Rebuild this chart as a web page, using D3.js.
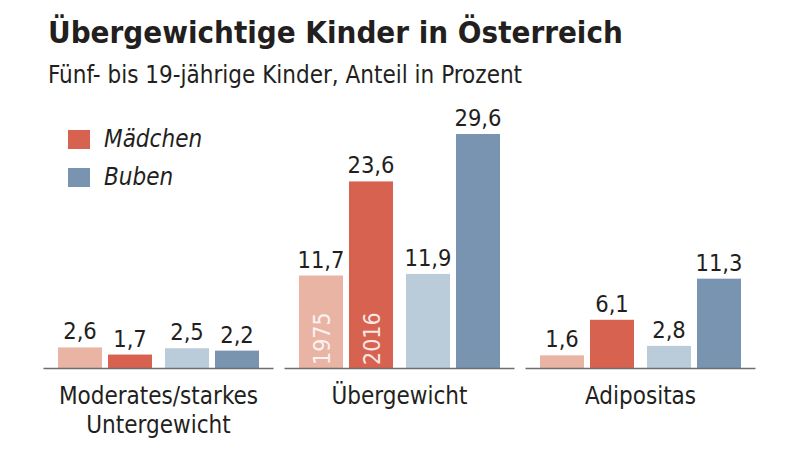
<!DOCTYPE html>
<html><head><meta charset="utf-8">
<script src="https://cdn.jsdelivr.net/npm/d3@7"></script>
<style>
body{margin:0;background:#fff;}
svg{display:block;}
text{font-family:"Liberation Sans Narrow","DejaVu Sans Condensed","Roboto",sans-serif;fill:#231f20;}
</style></head>
<body><svg id="c" width="800" height="452"></svg>
<script>
const categories = ["Moderates/starkes\nUntergewicht", "Übergewicht", "Adipositas"];
const sexes = ["Mädchen", "Buben"];
const years = ["1975", "2016"];
const maedchen1975 = [2.6, 11.7, 1.6];
const maedchen2016 = [1.7, 23.6, 6.1];
const buben1975 = [2.5, 11.9, 2.8];
const buben2016 = [2.2, 29.6, 11.3];
const title = "Übergewichtige Kinder in Österreich";
const subtitle = "Fünf- bis 19-jährige Kinder, Anteil in Prozent";

const colors = {"Mädchen|1975":"#E9B4A4","Mädchen|2016":"#D6624F","Buben|1975":"#BACCDA","Buben|2016":"#7894B0"};
const series = {"Mädchen|1975":maedchen1975,"Mädchen|2016":maedchen2016,"Buben|1975":buben1975,"Buben|2016":buben2016};

const svg = d3.select("#c");
const fmt = d3.formatLocale({decimal:",",thousands:".",grouping:[3],currency:["","€"]}).format(".1f");

svg.append("text").attr("x",48).attr("y",43).attr("font-size",31).attr("font-weight","bold").text(title);
svg.append("text").attr("x",48).attr("y",83).attr("font-size",24).text(subtitle);

const x0 = d3.scaleBand().domain(categories).range([38,761]);
const xs = d3.scaleBand().domain(sexes).range([0,201]).paddingInner(13/107);
const xy = d3.scaleBand().domain(years).range([0,xs.bandwidth()]).paddingInner(0.12);
const y = d3.scaleLinear().domain([0,29.6]).range([368,134]);

const groupW = 201;
const data = [];
categories.forEach((c,i)=>{
  sexes.forEach(s=>years.forEach(yr=>{
    data.push({c, s, yr, v: series[s+"|"+yr][i]});
  }));
});
const bx = d => x0(d.c) + (x0.bandwidth()-groupW)/2 + xs(d.s) + xy(d.yr);

svg.append("g").selectAll("rect").data(data).join("rect")
  .attr("x", bx).attr("width", xy.bandwidth())
  .attr("y", d=>y(d.v)).attr("height", d=>y(0)-y(d.v))
  .attr("fill", d=>colors[d.s+"|"+d.yr]);

svg.append("g").selectAll("text").data(data).join("text")
  .attr("x", d=>bx(d)+xy.bandwidth()/2).attr("y", d=>y(d.v)-8)
  .attr("text-anchor","middle").attr("font-size",23.5).text(d=>fmt(d.v));

// axis segments
svg.append("g").selectAll("line").data(categories).join("line")
  .attr("x1", c=>x0(c)+x0.bandwidth()/2-115).attr("x2", c=>x0(c)+x0.bandwidth()/2+115)
  .attr("y1", y(0)+0.5).attr("y2", y(0)+0.5)
  .attr("stroke","#6d6e71").attr("stroke-width",1.5);

// category labels
categories.forEach(c=>{
  const t = svg.append("text").attr("text-anchor","middle").attr("font-size",24)
    .attr("x", x0(c)+x0.bandwidth()/2).attr("y", 404);
  c.split("\n").forEach((line,k)=>{
    t.append("tspan").attr("x", x0(c)+x0.bandwidth()/2).attr("dy", k? 29:0).text(line);
  });
});

// year labels inside bars of middle group
const mid = categories[1];
years.forEach(yr=>{
  const d = {c:mid, s:"Mädchen", yr};
  const cx = bx(d)+xy.bandwidth()/2;
  svg.append("text").attr("transform",`translate(${cx+9},${y(0)-3}) rotate(-90)`)
    .attr("font-size",23).style("fill","#fff").style("opacity",0.85).text(yr);
});

// legend
sexes.forEach((s,k)=>{
  const ly = 130 + k*38;
  svg.append("rect").attr("x",68).attr("y",ly).attr("width",22).attr("height",19).attr("fill",colors[s+"|2016"]);
  svg.append("text").attr("x",104).attr("y",ly+17).attr("font-size",24).attr("font-style","italic").text(s);
});
</script></body></html>
